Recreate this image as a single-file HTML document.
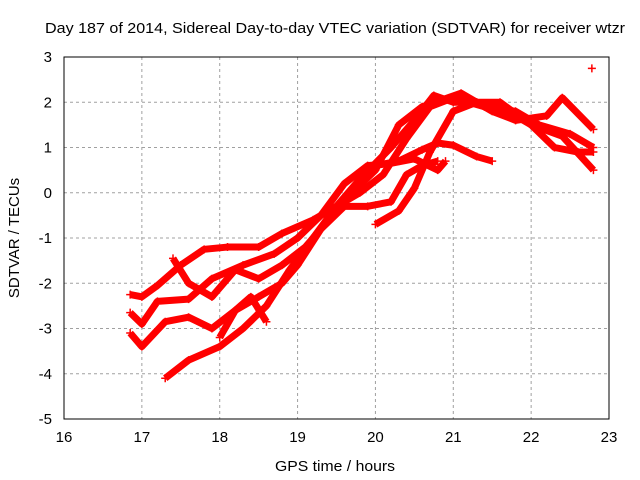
<!DOCTYPE html>
<html><head><meta charset="utf-8"><style>
body{margin:0;background:#fff;}
svg{display:block;font-family:"Liberation Sans",sans-serif;}
</style></head><body>
<svg id="chart" width="640" height="480" xmlns="http://www.w3.org/2000/svg">
<rect width="640" height="480" fill="#fff"/>
<text x="45" y="33" font-size="15" textLength="580" lengthAdjust="spacingAndGlyphs">Day 187 of 2014, Sidereal Day-to-day VTEC variation (SDTVAR) for receiver wtzr</text>
<text x="275" y="471" font-size="15" textLength="120" lengthAdjust="spacingAndGlyphs">GPS time / hours</text>
<text transform="translate(19,238) rotate(-90)" font-size="15" text-anchor="middle">SDTVAR / TECUs</text>
<g id="grid"></g><g id="ticks"></g><g id="series"></g>
<rect x="64" y="57" width="545" height="362" fill="none" stroke="#000" stroke-width="1"/>
</svg>
<script>
const xTicks=[16,17,18,19,20,21,22,23];
const yTicks=[-5,-4,-3,-2,-1,0,1,2,3];
const trackA=[[16.85,-2.25],[17.0,-2.3],[17.2,-2.05],[17.5,-1.6],[17.8,-1.25],[18.1,-1.2],[18.5,-1.2],[18.8,-0.9],[19.2,-0.6],[19.6,-0.2],[20.0,0.6],[20.3,0.7],[20.6,0.95],[20.8,1.1],[21.0,1.05],[21.3,0.8],[21.5,0.7]];
const trackB=[[16.85,-2.65],[17.0,-2.9],[17.2,-2.4],[17.6,-2.35],[17.9,-1.9],[18.3,-1.6],[18.7,-1.35],[19.0,-1.0],[19.3,-0.5],[19.6,0.2],[19.9,0.6],[20.2,0.65],[20.5,0.75],[20.8,0.5],[20.9,0.7]];
const trackC=[[16.85,-3.1],[17.0,-3.4],[17.3,-2.85],[17.6,-2.75],[17.9,-3.0],[18.2,-2.6],[18.5,-2.3],[18.8,-2.0],[19.0,-1.6],[19.3,-0.8],[19.6,-0.3],[19.9,-0.3],[20.2,-0.2],[20.4,0.4],[20.6,0.6],[20.8,0.7]];
const trackD=[[17.3,-4.1],[17.6,-3.7],[18.0,-3.4],[18.3,-3.0],[18.6,-2.5],[18.9,-1.7],[19.2,-1.0],[19.5,-0.3],[19.8,0.3],[20.2,1.0],[20.5,1.6],[20.75,2.15],[21.0,2.0],[21.3,2.0],[21.6,1.9],[22.0,1.5],[22.4,1.25],[22.8,0.5]];
const trackE=[[17.4,-1.45],[17.6,-2.0],[17.9,-2.3],[18.2,-1.7],[18.5,-1.9],[18.8,-1.6],[19.1,-1.2],[19.4,-0.6],[19.7,0.0],[20.0,0.5],[20.3,1.5],[20.6,1.9],[21.1,2.2],[21.5,1.8],[21.8,1.6],[22.2,1.7],[22.4,2.1],[22.8,1.4]];
const trackF=[[18.0,-3.2],[18.2,-2.6],[18.4,-2.3],[18.6,-2.85]];
const trackG=[[20.0,-0.7],[20.3,-0.4],[20.5,0.1],[20.7,0.9],[21.0,1.8],[21.3,2.0],[21.6,2.0],[22.0,1.5],[22.3,1.0],[22.6,0.9],[22.8,0.9]];
const trackH=[[19.5,-0.3],[19.8,0.0],[20.1,0.4],[20.4,1.2],[20.7,1.9],[21.0,2.1],[21.4,1.9],[21.8,1.8],[22.1,1.5],[22.5,1.3],[22.8,1.0]];
const outlier=[[22.78,2.75]];
const allSeries=[trackA,trackB,trackC,trackD,trackE,trackF,trackG,trackH,outlier];
const X=t=>64+(t-16)*545/7, Y=v=>57+(3-v)*362/8;
const NS="http://www.w3.org/2000/svg";
function mk(tag,attrs,parent){const e=document.createElementNS(NS,tag);for(const k in attrs)e.setAttribute(k,attrs[k]);parent.appendChild(e);return e;}
const grid=document.getElementById('grid'),ticks=document.getElementById('ticks'),ser=document.getElementById('series');
xTicks.forEach(t=>{
 if(t>16&&t<23){const g=mk('line',{x1:X(t),x2:X(t),y1:57,y2:419,stroke:'#a0a0a0','stroke-dasharray':'3,3'},grid);
 
 }
 const l=mk('text',{x:X(t),y:442,'font-size':15,'text-anchor':'middle'},ticks);l.textContent=t;
 
 
});
yTicks.forEach(v=>{
 if(v>-5&&v<3){const g=mk('line',{x1:64,x2:609,y1:Y(v),y2:Y(v),stroke:'#a0a0a0','stroke-dasharray':'3,3'},grid);
 
 }
 const l=mk('text',{x:52,y:Y(v)+5,'font-size':15,'text-anchor':'end'},ticks);l.textContent=v;
 
 
});
allSeries.forEach((s,i)=>{
 const g=mk('g',{},ser);
 
 
 if(s.length>1)mk('polyline',{points:s.map(p=>X(p[0])+','+Y(p[1])).join(' '),fill:'none',stroke:'#f00','stroke-width':7,'stroke-linejoin':'round'},g);
 s.forEach(p=>{const x=X(p[0]),y=Y(p[1]);
  const m=mk('path',{d:`M${x-4},${y}H${x+4}M${x},${y-4}V${y+4}`,stroke:'#f00','stroke-width':1.5},g);
  
  });
});
</script>
</body></html>
